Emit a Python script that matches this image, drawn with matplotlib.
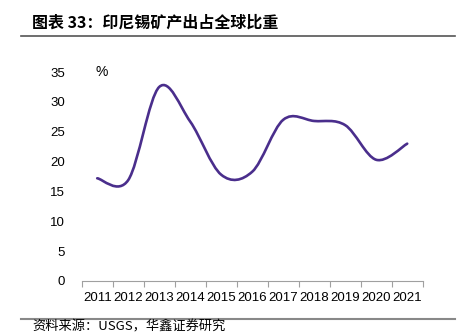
import numpy as np
import matplotlib
matplotlib.use('Agg')
import matplotlib.pyplot as plt
from matplotlib.path import Path
from matplotlib.patches import PathPatch
from matplotlib.lines import Line2D

plt.rcParams['font.family'] = ['Liberation Sans', 'Noto Sans CJK SC', 'DejaVu Sans']

years = ['2011', '2012', '2013', '2014', '2015', '2016', '2017', '2018', '2019', '2020', '2021']
share = [17.2, 16.9, 32.5, 26.7, 17.8, 18.3, 27.0, 26.8, 26.1, 20.3, 23.0]
yticks = [0, 5, 10, 15, 20, 25, 30, 35]

line_color = '#4a2e8c'

fig = plt.figure(figsize=(4.63, 3.35), dpi=100)
ax = fig.add_axes([0.1765, 0.1612, 0.7365, 0.6238])

# smoothed line (Catmull-Rom through the data points, drawn as bezier path)
x = np.arange(len(share), dtype=float)
y = np.array(share, dtype=float)
verts = [(x[0], y[0])]
codes = [Path.MOVETO]
n = len(x)
for i in range(n - 1):
    p0 = (x[max(i - 1, 0)], y[max(i - 1, 0)])
    p1 = (x[i], y[i])
    p2 = (x[i + 1], y[i + 1])
    p3 = (x[min(i + 2, n - 1)], y[min(i + 2, n - 1)])
    c1 = (p1[0] + (p2[0] - p0[0]) / 6, p1[1] + (p2[1] - p0[1]) / 6)
    c2 = (p2[0] - (p3[0] - p1[0]) / 6, p2[1] - (p3[1] - p1[1]) / 6)
    verts += [c1, c2, p2]
    codes += [Path.CURVE4] * 3
ax.add_patch(PathPatch(Path(verts, codes), facecolor='none', edgecolor=line_color,
                       lw=1.9, capstyle='round', joinstyle='round'))

ax.set_xlim(-0.5, n - 0.5)
ax.set_ylim(0, 35)
ax.set_yticks(yticks)
ax.set_yticklabels([str(v) for v in yticks], fontsize=9.5)
ax.set_xticks(x)
ax.set_xticklabels(years, fontsize=9.5)
ax.set_xticks(np.arange(-0.5, n), minor=True)
ax.tick_params(axis='x', which='major', length=0, pad=8)
ax.tick_params(axis='x', which='minor', length=4, color='#a0a0a0', width=0.8, direction='out')
ax.tick_params(axis='y', length=0, pad=12)
for s in ['top', 'right', 'left']:
    ax.spines[s].set_visible(False)
ax.spines['bottom'].set_color('#a0a0a0')
ax.spines['bottom'].set_linewidth(0.8)

fig.text(95 / 463, 1 - 72 / 335, '%', fontsize=10, va='center', ha='left')

# title and rules
fig.text(32 / 463, 1 - 23 / 335, '图表 33：印尼锡矿产出占全球比重', fontsize=11.5,
         fontweight='bold', va='center', ha='left',
         family=['Noto Sans CJK SC', 'DejaVu Sans'])
fig.add_artist(Line2D([21 / 463, 455 / 463], [1 - 36 / 335] * 2, color='#555555', lw=1.2))
fig.add_artist(Line2D([21 / 463, 455 / 463], [1 - 319 / 335] * 2, color='#888888', lw=1.5))
fig.text(32 / 463, 1 / 335, '资料来源：USGS，华鑫证券研究', fontsize=9.5,
         va='bottom', ha='left', family=['Noto Sans CJK SC', 'DejaVu Sans'])

fig.savefig('out.png', dpi=100)
